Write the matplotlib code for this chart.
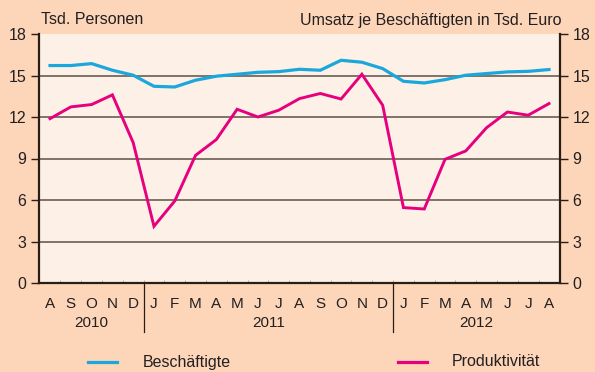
import matplotlib.pyplot as plt
from matplotlib.lines import Line2D
from matplotlib.transforms import blended_transform_factory

plt.rcParams['font.family'] = ['Liberation Sans', 'DejaVu Sans']
plt.rcParams['font.size'] = 11

months = ['A', 'S', 'O', 'N', 'D',
          'J', 'F', 'M', 'A', 'M', 'J', 'J', 'A', 'S', 'O', 'N', 'D',
          'J', 'F', 'M', 'A', 'M', 'J', 'J', 'A']
years = ['2010', '2011', '2012']
year_span = [(0, 4), (5, 16), (17, 24)]

beschaeftigte = [15.72, 15.72, 15.86, 15.38, 15.02,
                 14.22, 14.17, 14.66, 14.95, 15.09, 15.23, 15.28, 15.45,
                 15.38, 16.10, 15.96, 15.50,
                 14.58, 14.46, 14.70, 15.02, 15.14, 15.26, 15.30, 15.43]
produktivitaet = [11.88, 12.73, 12.90, 13.60, 10.15,
                  4.10, 5.93, 9.23, 10.37, 12.56, 12.00, 12.49, 13.33,
                  13.70, 13.30, 15.09, 12.85,
                  5.45, 5.35, 8.94, 9.55, 11.23, 12.36, 12.13, 12.97]

BG = '#fdd6b9'
PLOT_BG = '#fdf0e6'
CYAN = '#1ca7dc'
MAGENTA = '#e6007e'
DARK = '#2b1d14'
GRID = '#5c5048'
TEXT = '#231f20'

fig = plt.figure(figsize=(5.95, 3.72), dpi=100, facecolor=BG)
ax = fig.add_axes([39 / 595, 1 - 283 / 372, 521 / 595, 249 / 372])
ax.set_facecolor(PLOT_BG)

x = list(range(len(months)))
ax.plot(x, beschaeftigte, color=CYAN, lw=2.3, solid_joinstyle='miter', zorder=3)
ax.plot(x, produktivitaet, color=MAGENTA, lw=2.1, solid_joinstyle='miter', zorder=3)

ax.set_xlim(-0.53, 24.53)
ax.set_ylim(0, 18)
ax.set_yticks(range(0, 19, 3))
for v in range(3, 18, 3):
    ax.axhline(v, color=GRID, lw=1.1, zorder=1)

ax.spines['top'].set_visible(False)
for side in ('left', 'right', 'bottom'):
    ax.spines[side].set_color(DARK)
    ax.spines[side].set_linewidth(1.6)

ax.tick_params(axis='y', which='both', left=True, right=True,
               labelleft=True, labelright=True, direction='out',
               length=6, width=1.0, color=DARK, labelcolor=TEXT,
               labelsize=11.5, pad=3)
ax.set_xticks([])
ax.set_xticks([i + 0.5 for i in range(len(months) - 1)], minor=True)
ax.tick_params(axis='x', which='minor', direction='in', length=2.5,
               width=0.6, color='#b0a49a', labelbottom=False)

# month and year labels under the axis
trans = blended_transform_factory(ax.transData, ax.transAxes)
px = 1 / 249
for i, m in enumerate(months):
    ax.text(i, -21 * px, m, transform=trans, ha='center', va='center',
            color=TEXT, fontsize=11)
for label, (a, b) in zip(years, year_span):
    ax.text((a + b) / 2, -40 * px, label, transform=trans, ha='center',
            va='center', color=TEXT, fontsize=11)
for sep in (4.5, 16.5):
    ax.add_line(Line2D([sep, sep], [0, -49 * px], transform=trans,
                       color=DARK, lw=0.9, clip_on=False))

fig.text(41 / 595, 1 - 20 / 372, 'Tsd. Personen', ha='left', va='center',
         color=TEXT, fontsize=11.5)
fig.text(562 / 595, 1 - 20 / 372, 'Umsatz je Beschäftigten in Tsd. Euro',
         ha='right', va='center', color=TEXT, fontsize=11.5)

# legend row
ly = 1 - 362 / 372
fig.add_artist(Line2D([88 / 595, 117 / 595], [ly, ly], color=CYAN, lw=2.3))
fig.text(143 / 595, ly, 'Beschäftigte', ha='left', va='center',
         color=TEXT, fontsize=11.5)
fig.add_artist(Line2D([398 / 595, 427 / 595], [ly, ly], color=MAGENTA, lw=2.3))
fig.text(452 / 595, ly, 'Produktivität', ha='left', va='center',
         color=TEXT, fontsize=11.5)

fig.savefig('out.png', dpi=100, facecolor=BG)
